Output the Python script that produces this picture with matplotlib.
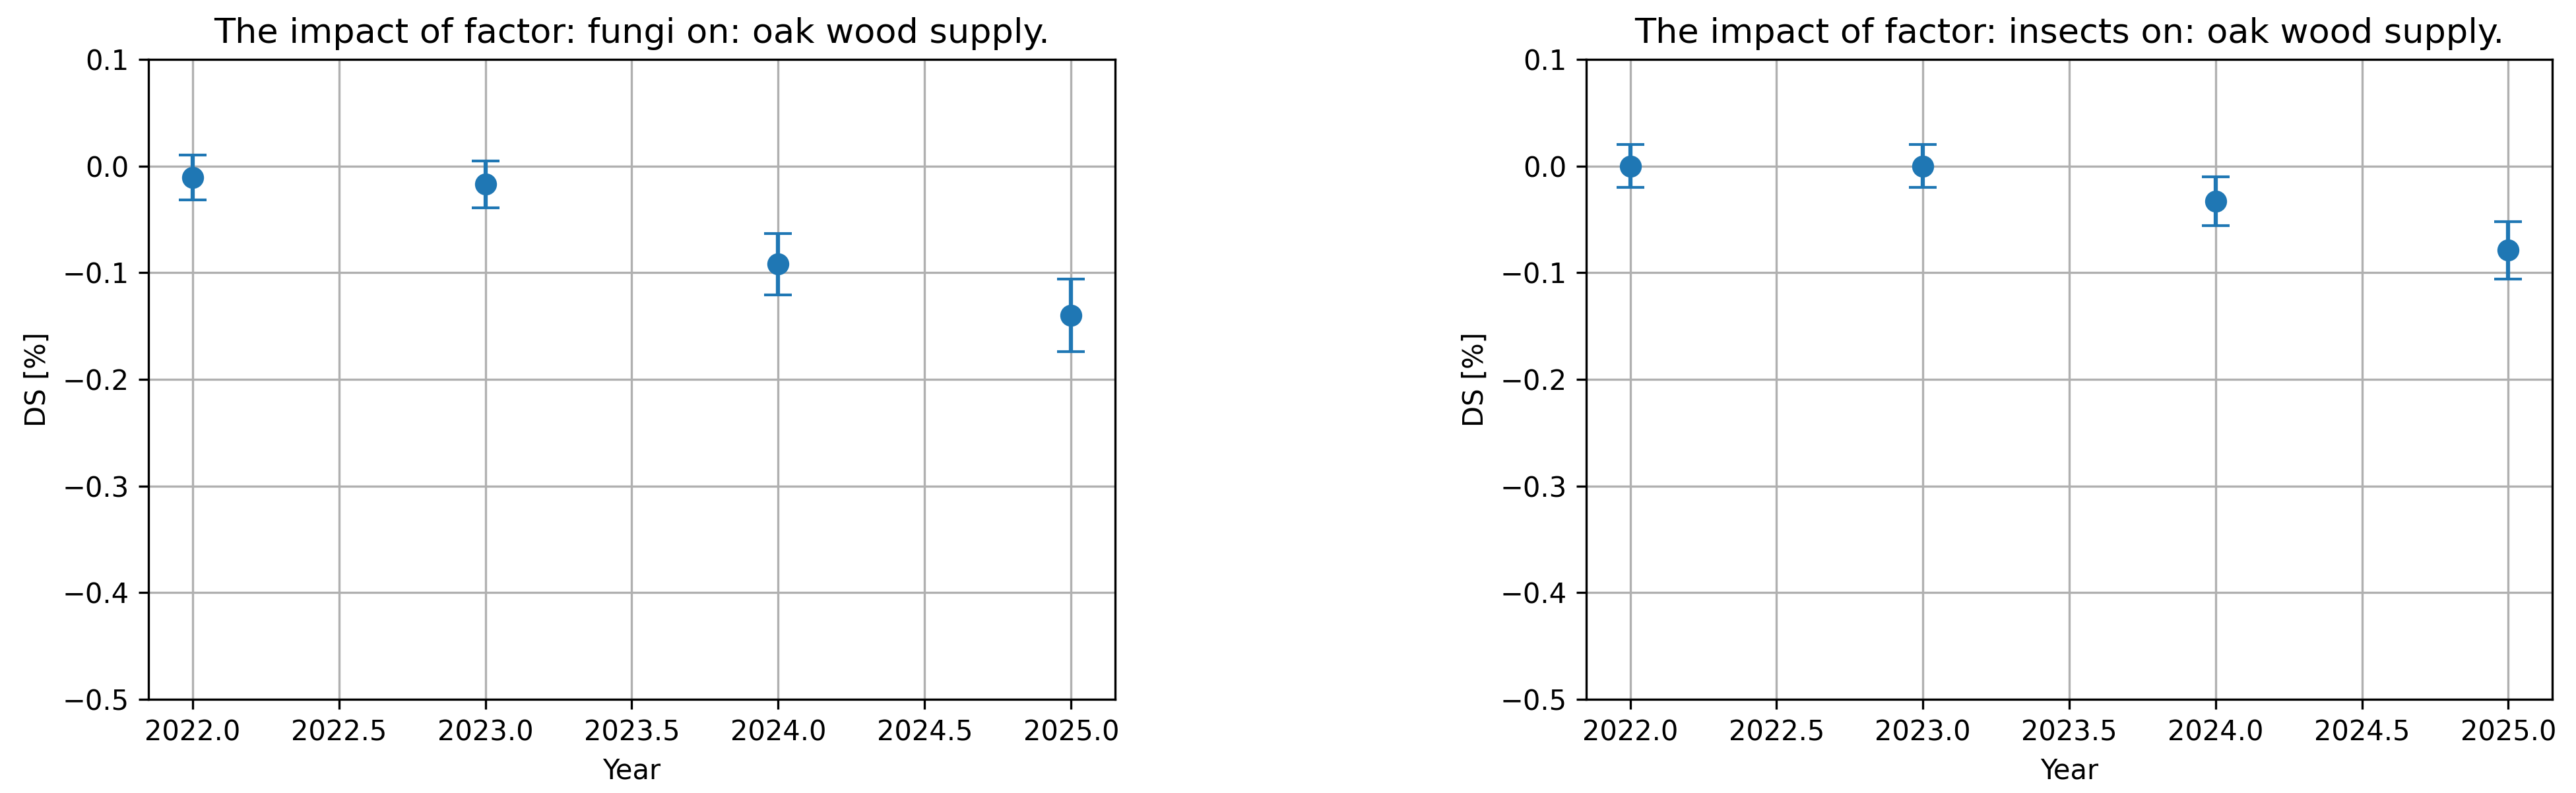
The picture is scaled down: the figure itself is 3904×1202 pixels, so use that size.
import matplotlib
matplotlib.use("Agg")
import matplotlib.pyplot as plt

years = [2022, 2023, 2024, 2025]

fungi_mean = [-0.011, -0.017, -0.092, -0.140]
fungi_err = [0.021, 0.022, 0.029, 0.034]

insects_mean = [0.000, 0.000, -0.033, -0.079]
insects_err = [0.020, 0.020, 0.023, 0.027]

factors = ["fungi", "insects"]
product = "oak wood supply"

yticks = [0.1, 0.0, -0.1, -0.2, -0.3, -0.4, -0.5]

fig = plt.figure(figsize=(3904 / 300, 1202 / 300), dpi=300)
ax1 = fig.add_axes([0.05763, 0.11814, 0.37526, 0.80699])
ax2 = fig.add_axes([0.61578, 0.11814, 0.37500, 0.80699])

for ax, factor, mean, err in [(ax1, factors[0], fungi_mean, fungi_err),
                              (ax2, factors[1], insects_mean, insects_err)]:
    ax.errorbar(years, mean, yerr=err, fmt='o', color='#1f77b4',
                capsize=5, markersize=7)
    ax.set_ylim(-0.5, 0.1)
    ax.set_yticks(yticks)
    ax.grid(True)
    ax.set_title(f"The impact of factor: {factor} on: {product}.", fontsize=12.6)
    ax.set_xlabel("Year")
    ax.set_ylabel("DS [%]")

fig.savefig("out.png", dpi=300)
